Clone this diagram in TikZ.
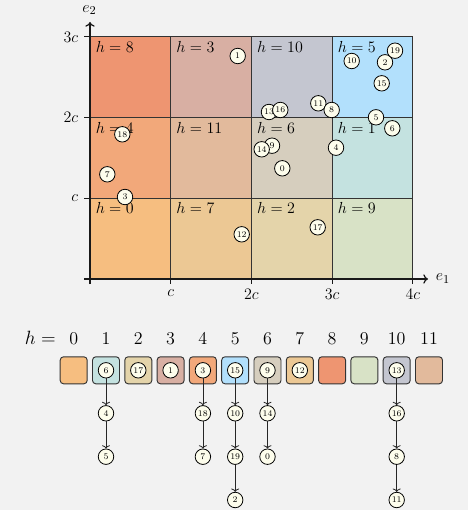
\documentclass[tikz,border=0pt]{standalone}
\usetikzlibrary{arrows.meta}
\definecolor{bgc}{RGB}{242,242,242}
\definecolor{cream}{RGB}{253,253,236}
\definecolor{hc0}{RGB}{246,190,128}
\definecolor{hc1}{RGB}{196,226,224}
\definecolor{hc2}{RGB}{228,212,170}
\definecolor{hc3}{RGB}{216,175,163}
\definecolor{hc4}{RGB}{242,168,122}
\definecolor{hc5}{RGB}{178,224,252}
\definecolor{hc6}{RGB}{214,206,190}
\definecolor{hc7}{RGB}{236,200,148}
\definecolor{hc8}{RGB}{238,149,113}
\definecolor{hc9}{RGB}{216,226,198}
\definecolor{hc10}{RGB}{196,198,208}
\definecolor{hc11}{RGB}{226,186,156}
\begin{document}
\begin{tikzpicture}[x=0.75pt,y=-0.75pt,
 cellbox/.style={draw=black!80,line width=0.75pt,minimum size=60.5pt,inner sep=0pt},
 celllab/.style={anchor=base west,inner sep=0pt,font=\fontsize{12}{14}\selectfont},
 pt/.style={circle,draw=black,fill=cream,line width=0.6pt,minimum size=11.6pt,inner sep=0pt,font=\fontsize{6.5}{7}\selectfont},
 axisline/.style={line width=0.9pt,black!90,-{To[length=3.5pt,width=7pt]}},
 tickline/.style={line width=0.9pt,black!90},
 axlab/.style={inner sep=0pt,font=\fontsize{13}{15}\selectfont},
 arrbox/.style={draw=black!80,line width=0.7pt,rounded corners=2.5pt,minimum size=20.25pt,inner sep=0pt},
 hdr/.style={anchor=base,inner sep=0pt,font=\fontsize{13.5}{16}\selectfont},
 link/.style={line width=0.6pt,black!85,-{To[length=2.5pt,width=6pt]}}]
\fill[bgc] (0,0) rectangle (468,510);
\useasboundingbox (0,0) rectangle (468,510);
% cells
\foreach \c/\r/\h in {0/0/0,1/0/7,2/0/2,3/0/9,0/1/4,1/1/11,2/1/6,3/1/1,0/2/8,1/2/3,2/2/10,3/2/5} {
  \node[cellbox,fill=hc\h] (cell\h) at ({90+80.7*\c+40.35},{279-80.7*\r-40.35}) {};
}
\foreach \c/\r/\h in {0/0/0,1/0/7,2/0/2,3/0/9,0/1/4,1/1/11,2/1/6,3/1/1,0/2/8,1/2/3,2/2/10,3/2/5} {
  \node[celllab] (lab\h) at ({90+80.7*\c+5.5},{279-80.7*(\r+1)+15.5}) {$h=\h$};
}
% axes
\coordinate (xs) at (84,279);
\coordinate (xe) at (428,279);
\coordinate (ys) at (90,284);
\coordinate (ye) at (90,22);
\draw[axisline] (xs) -- (xe);
\draw[axisline] (ys) -- (ye);
\foreach \i in {1,2,3,4} {
  \coordinate (xt\i) at ({90+80.7*\i},279);
  \coordinate (xb\i) at ({90+80.7*\i},284);
  \draw[tickline] (xt\i) -- (xb\i);
}
\foreach \i in {1,2,3} {
  \coordinate (yt\i) at (90,{279-80.7*\i});
  \coordinate (yb\i) at (84,{279-80.7*\i});
  \draw[tickline] (yt\i) -- (yb\i);
}
\node[axlab,anchor=north] (lx1) at (170.7,289) {$c$};
\node[axlab,anchor=north] (lx2) at (251.4,289) {$2c$};
\node[axlab,anchor=north] (lx3) at (332.1,289) {$3c$};
\node[axlab,anchor=north] (lx4) at (412.8,289) {$4c$};
\node[axlab,anchor=east] (ly1) at (78.5,198.3) {$c$};
\node[axlab,anchor=east] (ly2) at (78.5,117.6) {$2c$};
\node[axlab,anchor=east] (ly3) at (78.5,36.9) {$3c$};
\node[axlab,anchor=west] (le1) at (435.5,278.5) {$e_1$};
\node[axlab,anchor=south] (le2) at (89.5,15) {$e_2$};
% points
\foreach \n/\x/\y in {0/282.3/168.3,1/237.7/56,2/385/62.3,3/125/197,4/336/147.7,5/376/117.3,6/392.3/128.3,7/107.3/174.3,9/272/145.7,10/351.7/61,11/318.3/103.3,8/331.7/110,12/241.7/234.3,13/269/112,14/261.7/149.3,15/381.7/83.3,16/280.3/110,17/317.7/227.3,18/122.3/134.3,19/395/50.7} {
  \node[pt] (p\n) at (\x,\y) {\n};
}
% array header
\node[anchor=base east,inner sep=0pt,font=\fontsize{13.5}{16}\selectfont] (heq) at (56,344) {$h=$};
\foreach \i in {0,...,11} {
  \node[hdr] (hd\i) at ({73.7+32.3*\i},344) {\i};
  \node[arrbox,fill=hc\i] (bx\i) at ({73.7+32.3*\i},370.3) {};
}
% chains
\foreach \i/\a/\b/\c/\d in {1/6/4/5/,4/3/18/7/,5/15/10/19/2,6/9/14/0/,10/13/16/8/11} {
  \node[pt] (c\i a) at ({73.7+32.3*\i},370.3) {\a};
  \node[pt] (c\i b) at ({73.7+32.3*\i},413.3) {\b};
  \node[pt] (c\i c) at ({73.7+32.3*\i},456.7) {\c};
  \draw[link] (c\i a) -- (c\i b);
  \draw[link] (c\i b) -- (c\i c);
}
\node[pt] (c5d) at ({73.7+32.3*5},500) {2};
\draw[link] (c5c) -- (c5d);
\node[pt] (c10d) at ({73.7+32.3*10},500) {11};
\draw[link] (c10c) -- (c10d);
\node[pt] (c2a) at ({73.7+32.3*2},370.3) {17};
\node[pt] (c3a) at ({73.7+32.3*3},370.3) {1};
\node[pt] (c7a) at ({73.7+32.3*7},370.3) {12};
\end{tikzpicture}
\end{document}
